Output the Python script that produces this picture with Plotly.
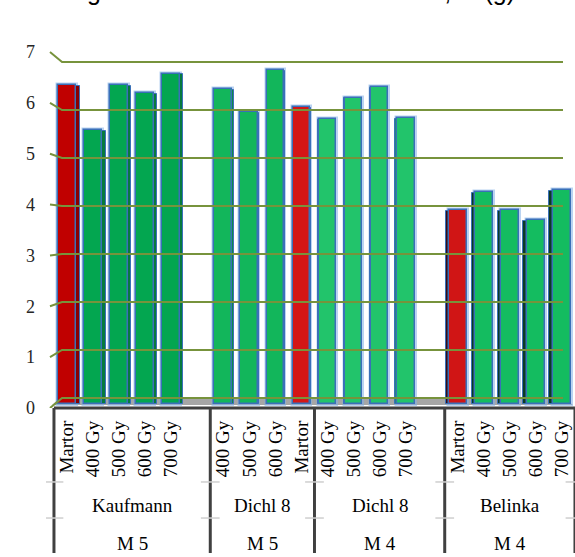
import plotly.graph_objects as go

# ---- data -------------------------------------------------------------
varieties = ["Kaufmann", "Dichl 8", "Dichl 8", "Belinka"]
generations = ["M 5", "M 5", "M 4", "M 4"]

kaufmann_m5_labels = ["Martor", "400 Gy", "500 Gy", "600 Gy", "700 Gy", ""]
kaufmann_m5 = [6.52, 5.58, 6.52, 6.35, 6.76, None]

dichl8_m5_labels = ["400 Gy", "500 Gy", "600 Gy", "Martor"]
dichl8_m5 = [6.43, 5.96, 6.83, 6.06]

dichl8_m4_labels = ["400 Gy", "500 Gy", "600 Gy", "700 Gy", ""]
dichl8_m4 = [5.81, 6.26, 6.47, 5.83, None]

belinka_m4_labels = ["Martor", "400 Gy", "500 Gy", "600 Gy", "700 Gy"]
belinka_m4 = [3.92, 4.29, 3.92, 3.71, 4.33]

y_ticks = [0, 1, 2, 3, 4, 5, 6, 7]

title_text = "Mean weight of 1000 seeds in M4 and M5, in (g)"

# ---- styling ----------------------------------------------------------
group_labels = [kaufmann_m5_labels, dichl8_m5_labels, dichl8_m4_labels, belinka_m4_labels]
group_values = [kaufmann_m5, dichl8_m5, dichl8_m4, belinka_m4]
green_fill = ["#03A650", "#12B65B", "#22C46B", "#14BC60"]
red_fill = ["#C00000", "#D41616", "#D41616", "#D01515"]
green_side = ["#067A3E", "#0E8A48", "#129452", "#0B3A24"]
red_side = ["#8A0000", "#900A0A", "#900A0A", "#3A0E14"]

GRID = "#77933C"
SERIF = "Liberation Serif"
BAR_W = 0.68
BAR_FOOT = -0.12          # bars stand on the front edge of the floor
Y1_RANGE = [-0.2083, 7.4583]
Y2_RANGE = [0, 7.236]
X_RANGE = [-0.806, 19.501]
PX_PER_SLOT = 26.05

# ---- lay the groups out on consecutive slots ----------------------------
xs, ys, fills, side_cols, tickvals, ticktext = [], [], [], [], [], []
group_edges = [-0.5]
slot = 0
for g, (labels, vals) in enumerate(zip(group_labels, group_values)):
    for lab, v in zip(labels, vals):
        if v is not None:
            xs.append(slot)
            ys.append(v)
            is_ctrl = lab == "Martor"
            fills.append(red_fill[g] if is_ctrl else green_fill[g])
            side_cols.append(red_side[g] if is_ctrl else green_side[g])
        if lab:
            tickvals.append(slot)
            ticktext.append(lab)
        slot += 1
    group_edges.append(slot - 0.5)

n_slots = slot
mid = (n_slots - 1) / 2

# perspective side faces: visible on the inner side of each column
side_w, side_off = [], []
for x in xs:
    d = abs(x - mid) * 0.45 / PX_PER_SLOT
    side_w.append(BAR_W + d)
    side_off.append(-BAR_W / 2 if x < mid else -BAR_W / 2 - d)


def to_y1(v):
    """Map a y2 (front-wall) value to y1 (back-wall) units."""
    return Y1_RANGE[0] + (v - Y2_RANGE[0]) / (Y2_RANGE[1] - Y2_RANGE[0]) * (Y1_RANGE[1] - Y1_RANGE[0])


fig = go.Figure()

# back-wall gridlines with their short slanted side-wall segments
gx, gy = [], []
for v in y_ticks:
    gx += [-0.653, -0.19, 19.04, None]
    gy += [to_y1(v), v, v, None]
fig.add_trace(go.Scatter(x=gx, y=gy, mode="lines", line=dict(color=GRID, width=2),
                         hoverinfo="skip", showlegend=False))

heights = [v - BAR_FOOT for v in ys]

# soft halo round the columns
fig.add_trace(go.Bar(x=xs, y=heights, base=BAR_FOOT, width=BAR_W,
                     marker=dict(color=fills, line=dict(color="rgba(130,175,230,0.55)", width=4.5)),
                     hoverinfo="skip", showlegend=False))
# side faces
fig.add_trace(go.Bar(x=xs, y=[h - 0.02 for h in heights], base=BAR_FOOT, width=side_w, offset=side_off,
                     marker=dict(color=side_cols, line=dict(color="#3A70B8", width=1)),
                     hoverinfo="skip", showlegend=False))
# front faces
fig.add_trace(go.Bar(x=xs, y=heights, base=BAR_FOOT, width=BAR_W,
                     marker=dict(color=fills, line=dict(color="#3A70B8", width=1.5)),
                     customdata=ys, hovertemplate="%{customdata}<extra></extra>",
                     showlegend=False))

# front-wall value scale
fig.add_trace(go.Scatter(x=[None] * len(y_ticks), y=y_ticks, yaxis="y2", mode="markers",
                         hoverinfo="skip", showlegend=False))

shapes = []
# floor
shapes.append(dict(type="path", xref="x", yref="y", layer="below",
                   path="M -0.576,-0.146 L -0.27,0 L 19.12,0 L 19.42,-0.146 Z",
                   fillcolor="#A6A6A6", line=dict(width=0)))
# category table
shapes.append(dict(type="line", xref="x", yref="paper", x0=group_edges[0], x1=group_edges[-1],
                   y0=0, y1=0, line=dict(color="#404040", width=3)))
for e in group_edges:
    shapes.append(dict(type="line", xref="x", yref="paper", x0=e, x1=e, y0=0, y1=-0.394,
                       line=dict(color="#404040", width=3)))
    for yy in (-0.201, -0.299):
        shapes.append(dict(type="line", xref="x", yref="paper", x0=e - 0.36, x1=e + 0.36,
                           y0=yy, y1=yy, line=dict(color="#CFCFCF", width=1.5)))

annotations = []
for g in range(len(varieties)):
    cx = (group_edges[g] + group_edges[g + 1]) / 2
    annotations.append(dict(x=cx, y=-0.266, xref="x", yref="paper", yanchor="middle",
                            text=varieties[g], showarrow=False,
                            font=dict(family=SERIF, size=19, color="black")))
    annotations.append(dict(x=cx, y=-0.367, xref="x", yref="paper", yanchor="middle",
                            text=generations[g], showarrow=False,
                            font=dict(family=SERIF, size=19, color="black")))
annotations.append(dict(x=-0.129, y=1.0897, xref="paper", yref="paper", xanchor="left",
                        yanchor="bottom", text=title_text, showarrow=False,
                        font=dict(family="Liberation Sans", size=25, color="black")))

fig.update_layout(
    width=575, height=557,
    margin=dict(l=46, r=0, t=40, b=149),
    paper_bgcolor="white", plot_bgcolor="white",
    barmode="overlay", bargap=0,
    shapes=shapes, annotations=annotations,
    xaxis=dict(range=X_RANGE, tickvals=tickvals, ticktext=ticktext, tickangle=-90,
               tickfont=dict(family=SERIF, size=19, color="black"), ticks="",
               ticklabelstandoff=8, showgrid=False, zeroline=False, showline=False),
    yaxis=dict(range=Y1_RANGE, showticklabels=False, showgrid=False, zeroline=False,
               showline=False, ticks=""),
    yaxis2=dict(range=Y2_RANGE, overlaying="y", side="left", anchor="x", tickvals=y_ticks,
                tickfont=dict(family=SERIF, size=18, color="#262626"), ticks="",
                ticklabelstandoff=10, showgrid=False, zeroline=False, showline=False),
)

fig.write_html("out.html")
